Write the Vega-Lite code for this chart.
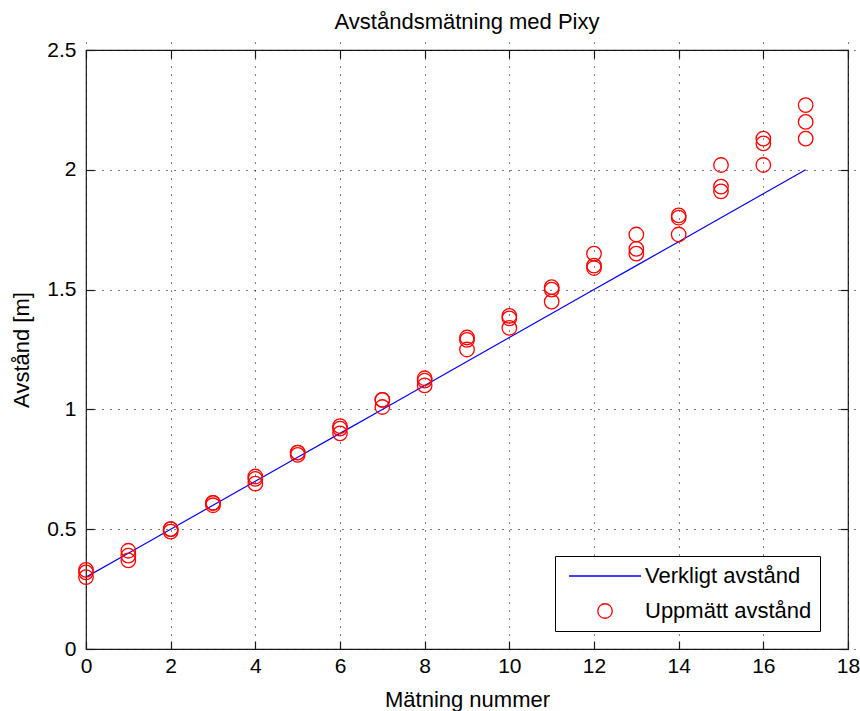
{
  "$schema": "https://vega.github.io/schema/vega-lite/v6.json",
  "width": 762,
  "height": 599,
  "autosize": {"type": "none"},
  "padding": {"left": 86, "top": 50, "right": 12, "bottom": 62},
  "background": "white",
  "title": {"text": "Avståndsmätning med Pixy", "fontSize": 22, "fontWeight": "normal", "font": "Liberation Sans", "color": "#000000", "offset": 5, "anchor": "middle"},
  "config": {
    "font": "Liberation Sans",
    "view": {"stroke": "#1a1a1a", "strokeWidth": 1.2},
    "axis": {
      "labelFont": "Liberation Sans",
      "titleFont": "Liberation Sans",
      "labelFontSize": 21,
      "titleFontSize": 22,
      "titleFontWeight": "normal",
      "labelColor": "#000000",
      "titleColor": "#000000",
      "tickColor": "#1a1a1a",
      "tickWidth": 1.2,
      "tickSize": 8,
      "offset": -8,
      "domain": false,
      "labelFlush": false
    }
  },
  "datasets": {
    "verklig": [
      {"n": 0, "d": 0.3}, {"n": 1, "d": 0.4}, {"n": 2, "d": 0.5}, {"n": 3, "d": 0.6},
      {"n": 4, "d": 0.7}, {"n": 5, "d": 0.8}, {"n": 6, "d": 0.9}, {"n": 7, "d": 1.0},
      {"n": 8, "d": 1.1}, {"n": 9, "d": 1.2}, {"n": 10, "d": 1.3}, {"n": 11, "d": 1.4},
      {"n": 12, "d": 1.5}, {"n": 13, "d": 1.6}, {"n": 14, "d": 1.7}, {"n": 15, "d": 1.8},
      {"n": 16, "d": 1.9}, {"n": 17, "d": 2.0}
    ],
    "uppmatt": [
      {"n": 0, "d": 0.30, "serie": "Uppmätt avstånd"}, {"n": 0, "d": 0.32, "serie": "Uppmätt avstånd"}, {"n": 0, "d": 0.33, "serie": "Uppmätt avstånd"},
      {"n": 1, "d": 0.37, "serie": "Uppmätt avstånd"}, {"n": 1, "d": 0.39, "serie": "Uppmätt avstånd"}, {"n": 1, "d": 0.41, "serie": "Uppmätt avstånd"},
      {"n": 2, "d": 0.49, "serie": "Uppmätt avstånd"}, {"n": 2, "d": 0.50, "serie": "Uppmätt avstånd"}, {"n": 2, "d": 0.50, "serie": "Uppmätt avstånd"},
      {"n": 3, "d": 0.60, "serie": "Uppmätt avstånd"}, {"n": 3, "d": 0.61, "serie": "Uppmätt avstånd"}, {"n": 3, "d": 0.61, "serie": "Uppmätt avstånd"},
      {"n": 4, "d": 0.69, "serie": "Uppmätt avstånd"}, {"n": 4, "d": 0.71, "serie": "Uppmätt avstånd"}, {"n": 4, "d": 0.72, "serie": "Uppmätt avstånd"},
      {"n": 5, "d": 0.81, "serie": "Uppmätt avstånd"}, {"n": 5, "d": 0.82, "serie": "Uppmätt avstånd"}, {"n": 5, "d": 0.82, "serie": "Uppmätt avstånd"},
      {"n": 6, "d": 0.90, "serie": "Uppmätt avstånd"}, {"n": 6, "d": 0.92, "serie": "Uppmätt avstånd"}, {"n": 6, "d": 0.93, "serie": "Uppmätt avstånd"},
      {"n": 7, "d": 1.01, "serie": "Uppmätt avstånd"}, {"n": 7, "d": 1.04, "serie": "Uppmätt avstånd"}, {"n": 7, "d": 1.04, "serie": "Uppmätt avstånd"},
      {"n": 8, "d": 1.10, "serie": "Uppmätt avstånd"}, {"n": 8, "d": 1.12, "serie": "Uppmätt avstånd"}, {"n": 8, "d": 1.13, "serie": "Uppmätt avstånd"},
      {"n": 9, "d": 1.25, "serie": "Uppmätt avstånd"}, {"n": 9, "d": 1.29, "serie": "Uppmätt avstånd"}, {"n": 9, "d": 1.30, "serie": "Uppmätt avstånd"},
      {"n": 10, "d": 1.34, "serie": "Uppmätt avstånd"}, {"n": 10, "d": 1.38, "serie": "Uppmätt avstånd"}, {"n": 10, "d": 1.39, "serie": "Uppmätt avstånd"},
      {"n": 11, "d": 1.45, "serie": "Uppmätt avstånd"}, {"n": 11, "d": 1.50, "serie": "Uppmätt avstånd"}, {"n": 11, "d": 1.51, "serie": "Uppmätt avstånd"},
      {"n": 12, "d": 1.59, "serie": "Uppmätt avstånd"}, {"n": 12, "d": 1.60, "serie": "Uppmätt avstånd"}, {"n": 12, "d": 1.65, "serie": "Uppmätt avstånd"},
      {"n": 13, "d": 1.65, "serie": "Uppmätt avstånd"}, {"n": 13, "d": 1.67, "serie": "Uppmätt avstånd"}, {"n": 13, "d": 1.73, "serie": "Uppmätt avstånd"},
      {"n": 14, "d": 1.73, "serie": "Uppmätt avstånd"}, {"n": 14, "d": 1.80, "serie": "Uppmätt avstånd"}, {"n": 14, "d": 1.81, "serie": "Uppmätt avstånd"},
      {"n": 15, "d": 1.91, "serie": "Uppmätt avstånd"}, {"n": 15, "d": 1.93, "serie": "Uppmätt avstånd"}, {"n": 15, "d": 2.02, "serie": "Uppmätt avstånd"},
      {"n": 16, "d": 2.02, "serie": "Uppmätt avstånd"}, {"n": 16, "d": 2.11, "serie": "Uppmätt avstånd"}, {"n": 16, "d": 2.13, "serie": "Uppmätt avstånd"},
      {"n": 17, "d": 2.13, "serie": "Uppmätt avstånd"}, {"n": 17, "d": 2.20, "serie": "Uppmätt avstånd"}, {"n": 17, "d": 2.27, "serie": "Uppmätt avstånd"}
    ]
  },
  "layer": [
    {
      "data": {"name": "verklig"},
      "mark": {"type": "line", "strokeWidth": 1.2},
      "encoding": {
        "x": {
          "field": "n", "type": "quantitative",
          "scale": {"domain": [0, 18], "nice": false, "zero": false},
          "axis": {"orient": "bottom", "title": "Mätning nummer", "values": [0, 2, 4, 6, 8, 10, 12, 14, 16, 18],
            "grid": true, "gridDash": [1, 7], "gridColor": "#000000", "gridWidth": 1, "gridOpacity": 1,
            "labelPadding": 6, "titlePadding": 13}
        },
        "y": {
          "field": "d", "type": "quantitative",
          "scale": {"domain": [0, 2.5], "nice": false, "zero": false},
          "axis": {"orient": "left", "title": "Avstånd [m]", "values": [0, 0.5, 1, 1.5, 2, 2.5], "labelExpr": "'' + datum.value",
            "grid": true, "gridDash": [1, 7], "gridColor": "#000000", "gridWidth": 1, "gridOpacity": 1,
            "labelPadding": 10, "titlePadding": 13}
        },
        "color": {
          "datum": "Verkligt avstånd", "type": "nominal", "title": null,
          "scale": {"domain": ["Verkligt avstånd", "Uppmätt avstånd"], "range": ["#0000ff", "#ff0000"]},
          "legend": {
            "title": null, "orient": "none", "legendX": 469, "legendY": 506,
            "padding": 8, "fillColor": "white", "strokeColor": "#000000", "cornerRadius": 0,
            "labelFont": "Liberation Sans", "labelFontSize": 22, "labelColor": "#000000", "labelLimit": 400,
            "symbolSize": 5184, "clipHeight": 24, "rowPadding": 11, "labelOffset": 60, "symbolStrokeWidth": 1.3,
            "encode": {
              "symbols": {
                "update": {
                  "x": {"value": 42},
                  "shape": {"signal": "datum.value === 'Verkligt avstånd' ? 'stroke' : 'circle'"},
                  "size": {"signal": "datum.value === 'Verkligt avstånd' ? 5184 : 210"},
                  "fill": {"value": "transparent"},
                  "stroke": {"signal": "datum.value === 'Verkligt avstånd' ? '#0000ff' : '#ff0000'"},
                  "strokeWidth": {"value": 1.3},
                  "opacity": {"value": 1}
                }
              }
            }
          }
        }
      }
    },
    {
      "data": {"name": "uppmatt"},
      "mark": {"type": "point", "shape": "circle", "filled": false, "size": 210, "strokeWidth": 1.3, "opacity": 1},
      "encoding": {
        "x": {
          "field": "n", "type": "quantitative",
          "axis": {"orient": "top", "title": null, "labels": false, "grid": false, "values": [0, 2, 4, 6, 8, 10, 12, 14, 16, 18]}
        },
        "y": {
          "field": "d", "type": "quantitative",
          "axis": {"orient": "right", "title": null, "labels": false, "grid": false, "values": [0, 0.5, 1, 1.5, 2, 2.5]}
        },
        "color": {"field": "serie", "type": "nominal", "title": null}
      }
    }
  ],
  "resolve": {"axis": {"x": "independent", "y": "independent"}}
}
